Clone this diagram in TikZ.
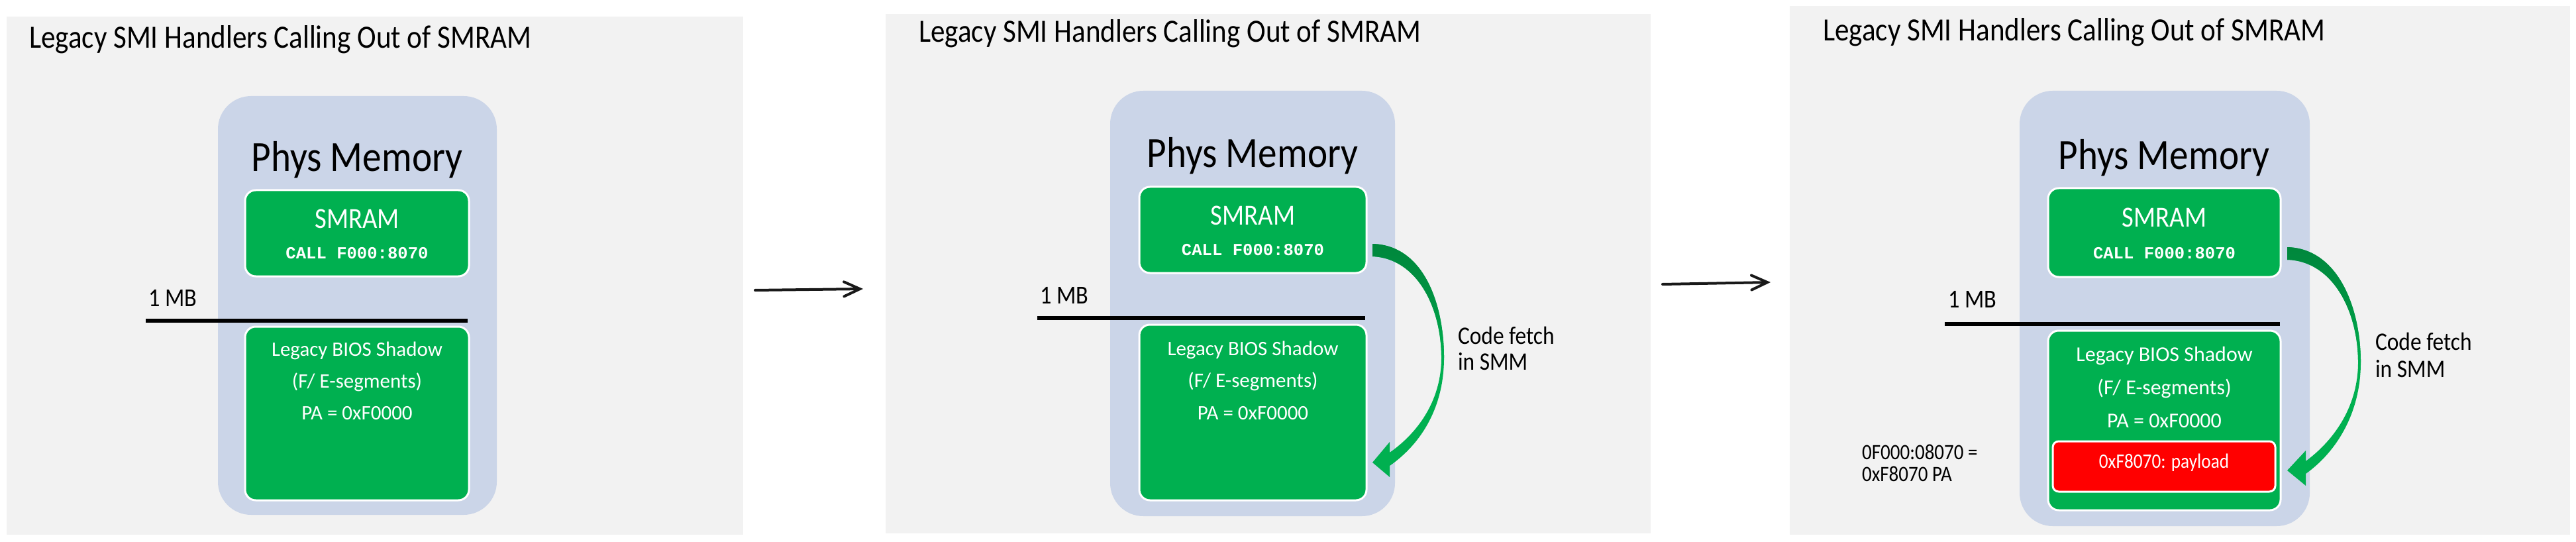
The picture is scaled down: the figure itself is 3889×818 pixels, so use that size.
\documentclass[tikz,border=0pt]{standalone}
\usepackage{fontspec}
\setmainfont{Carlito}
\newfontfamily\condfont{Carlito}[FakeStretch=0.88]
\newfontfamily\codefont{Liberation Mono}
\usetikzlibrary{arrows.meta}
\definecolor{panelgray}{HTML}{F2F2F2}
\definecolor{memblue}{HTML}{CBD5E8}
\definecolor{boxgreen}{HTML}{00B050}
\definecolor{dkgreen}{HTML}{00873C}
\definecolor{boxred}{HTML}{FF0000}
\tikzset{
  panelbg/.style={fill=panelgray, draw=none, inner sep=0pt, outer sep=0pt},
  memrect/.style={fill=memblue, draw=none, rounded corners=50pt, inner sep=0pt, outer sep=0pt},
  greenbox/.style={fill=boxgreen, draw=white, line width=3pt, rounded corners=16pt, inner sep=0pt},
  redbox/.style={fill=boxred, draw=white, line width=3pt, rounded corners=9pt, inner sep=0pt},
  txt/.style={inner sep=0pt, outer sep=0pt},
  titletxt/.style={txt, anchor=base west, font=\condfont\fontsize{49}{58}\selectfont},
  phystxt/.style={txt, anchor=base, font=\condfont\fontsize{65}{76}\selectfont},
  smramtxt/.style={txt, anchor=base, text=white, font=\condfont\fontsize{44}{52}\selectfont},
  codetxt/.style={txt, anchor=base, text=white, font=\codefont\bfseries\fontsize{25.6}{30}\selectfont},
  mbtxt/.style={txt, anchor=base west, font=\condfont\fontsize{39}{46}\selectfont},
  biostxt/.style={txt, anchor=base, text=white, font=\fontsize{31}{36}\selectfont},
  biostxtb/.style={txt, anchor=base, text=white, font=\fontsize{32}{38}\selectfont},
  redtxt/.style={txt, anchor=base, text=white, font=\condfont\fontsize{31}{36}\selectfont},
  lbltxt/.style={txt, anchor=base west, font=\condfont\fontsize{38}{44}\selectfont},
  palbl/.style={txt, anchor=base west, font=\condfont\fontsize{33}{40}\selectfont},
  mbline/.style={line width=6pt, black},
  steparrow/.style={line width=4pt, draw=black!90, line cap=round, -{Straight Barb[length=24pt,width=22pt,line cap=round]}},
}
\begin{document}
\begin{tikzpicture}[x=1pt,y=-1pt]
\useasboundingbox (0,0) rectangle (3889,818);
\fill[white] (0,0) rectangle (3889,818);

% ---------------- Panel 1 ----------------
\node[panelbg, minimum width=1112pt, minimum height=782pt] (bg1) at (566,416) {};
\node[titletxt] (title1) at (44,73) {Legacy SMI Handlers Calling Out of SMRAM};
\node[memrect, minimum width=421pt, minimum height=632pt] (mem1) at (539.5,461) {};
\node[phystxt] (phys1) at (539,259) {Phys Memory};
\node[greenbox, minimum width=338pt, minimum height=130pt] (smram1) at (539,352) {};
\node[smramtxt] (smramt1) at (539,344) {SMRAM};
\node[codetxt] (call1) at (539,390) {CALL F000:8070};
\node[mbtxt] (mb1) at (224,462) {1 MB};
\coordinate (l1a) at (220,484);
\coordinate (l1b) at (706,484);
\draw[mbline] (l1a) -- (l1b);
\node[greenbox, minimum width=338pt, minimum height=262pt] (bios1) at (539,624) {};
\node[biostxt] (b1a) at (539,537) {Legacy BIOS Shadow};
\node[biostxt] (b1b) at (539,585) {(F/ E-segments)};
\node[biostxt] (b1c) at (539,633) {PA = 0xF0000};

% arrow 1
\coordinate (a1s) at (1140,438);
\coordinate (a1e) at (1303,436);
\draw[steparrow] (a1s) -- (a1e);

% ---------------- Panel 2 ----------------
\node[panelbg, minimum width=1155pt, minimum height=784pt] (bg2) at (1914.5,413) {};
\node[titletxt] (title2) at (1387,64) {Legacy SMI Handlers Calling Out of SMRAM};
\node[memrect, minimum width=430pt, minimum height=642pt] (mem2) at (1891,458) {};
\node[phystxt] (phys2) at (1891,253) {Phys Memory};
\node[greenbox, minimum width=343pt, minimum height=130pt] (smram2) at (1891.5,347) {};
\node[smramtxt] (smramt2) at (1891.5,339) {SMRAM};
\node[codetxt] (call2) at (1891.5,385) {CALL F000:8070};
\node[mbtxt] (mb2) at (1570,458) {1 MB};
\coordinate (l2a) at (1566,480);
\coordinate (l2b) at (2061,480);
\draw[mbline] (l2a) -- (l2b);
\node[greenbox, minimum width=343pt, minimum height=265pt] (bios2) at (1891.5,622.5) {};
\node[biostxt] (b2a) at (1891.5,536) {Legacy BIOS Shadow};
\node[biostxt] (b2b) at (1891.5,584) {(F/ E-segments)};
\node[biostxt] (b2c) at (1891.5,633) {PA = 0xF0000};
% curved arrow 2
\fill[boxgreen] (2072,368) .. controls (2150,370) and (2180,460) .. (2180,540)
  .. controls (2180,612) and (2148,668) .. (2098,703) -- (2098,720) -- (2072,698) -- (2098,667) -- (2098,683)
  .. controls (2145,650) and (2176,600) .. (2176,540)
  .. controls (2176,465) and (2140,390) .. (2072,387) -- cycle;
\shade[top color=dkgreen, bottom color=boxgreen, middle color=dkgreen!70!boxgreen]
  (2072,368) .. controls (2150,370) and (2180,460) .. (2180,540)
  -- (2176,540) .. controls (2176,465) and (2140,390) .. (2072,387) -- cycle;
\node[lbltxt] (cf2a) at (2201,519) {Code fetch};
\node[lbltxt] (cf2b) at (2201,558) {in SMM};

% arrow 2
\coordinate (a2s) at (2510,429);
\coordinate (a2e) at (2673,426);
\draw[steparrow] (a2s) -- (a2e);

% ---------------- Panel 3 ----------------
\node[panelbg, minimum width=1178pt, minimum height=798pt] (bg3) at (3291,408) {};
\node[titletxt] (title3) at (2752,62) {Legacy SMI Handlers Calling Out of SMRAM};
\node[memrect, minimum width=438pt, minimum height=657pt] (mem3) at (3268,465.5) {};
\node[phystxt] (phys3) at (3267,256) {Phys Memory};
\node[greenbox, minimum width=351pt, minimum height=134pt] (smram3) at (3267.5,351) {};
\node[smramtxt] (smramt3) at (3267.5,342) {SMRAM};
\node[codetxt] (call3) at (3267.5,390) {CALL F000:8070};
\node[mbtxt] (mb3) at (2941,464) {1 MB};
\coordinate (l3a) at (2936,489);
\coordinate (l3b) at (3442,489);
\draw[mbline] (l3a) -- (l3b);
\node[greenbox, minimum width=351pt, minimum height=271pt] (bios3) at (3267.5,634.5) {};
\node[biostxtb] (b3a) at (3267.5,545) {Legacy BIOS Shadow};
\node[biostxtb] (b3b) at (3267.5,595) {(F/ E-segments)};
\node[biostxtb] (b3c) at (3267.5,645) {PA = 0xF0000};
\node[redbox, minimum width=336pt, minimum height=76pt] (red3) at (3267,704) {};
\node[redtxt] (redt3) at (3267,706) {0xF8070: payload};
\node[palbl] (pa3a) at (2811,693) {0F000:08070 =};
\node[palbl] (pa3b) at (2811,726) {0xF8070 PA};
% curved arrow 3
\fill[boxgreen] (3453,373) .. controls (3530,375) and (3564,465) .. (3564,547)
  .. controls (3564,620) and (3530,680) .. (3481,715) -- (3481,733) -- (3453,710) -- (3481,680) -- (3481,696)
  .. controls (3527,662) and (3560,610) .. (3560,547)
  .. controls (3560,470) and (3522,394) .. (3453,392) -- cycle;
\shade[top color=dkgreen, bottom color=boxgreen, middle color=dkgreen!70!boxgreen]
  (3453,373) .. controls (3530,375) and (3564,465) .. (3564,547)
  -- (3560,547) .. controls (3560,470) and (3522,394) .. (3453,392) -- cycle;
\node[lbltxt] (cf3a) at (3586,528) {Code fetch};
\node[lbltxt] (cf3b) at (3586,569) {in SMM};
\end{tikzpicture}
\end{document}
